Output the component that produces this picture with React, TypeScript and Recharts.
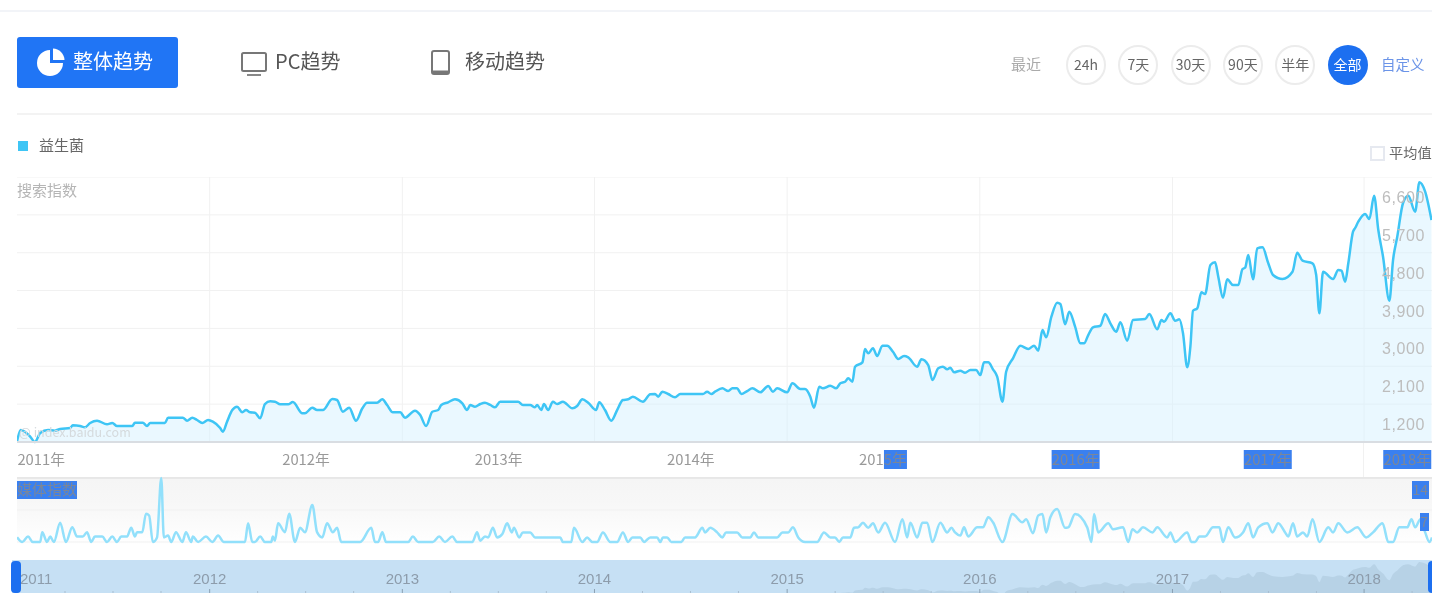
import React from 'react';
import { AreaChart, Area, LineChart, Line, XAxis, YAxis, CartesianGrid } from 'recharts';

// days are counted from the start of 2011
const searchDays = [
  0, 7, 15, 25, 34, 44, 59, 72, 82, 101,
  106, 120, 129, 139, 152, 171, 181, 190, 219, 224,
  239, 247, 253, 281, 287, 315, 323, 333, 342, 352,
  363, 372, 386, 391, 399, 409, 418, 428, 435, 443,
  452, 462, 471, 481, 490, 500, 515, 524, 542, 547,
  561, 570, 581, 599, 608, 619, 631, 644, 656, 665,
  684, 694, 703, 714, 728, 737, 756, 766, 777, 789,
  800, 806, 819, 832, 846, 855, 861, 870, 880, 889,
  899, 908, 918, 952, 961, 975, 984, 988, 996, 1001,
  1009, 1018, 1026, 1037, 1055, 1064, 1074, 1085, 1100, 1106,
  1117, 1129, 1140, 1151, 1161, 1170, 1189, 1203, 1212, 1218,
  1226, 1237, 1250, 1260, 1303, 1311, 1319, 1326, 1340, 1351,
  1359, 1368, 1376, 1387, 1397, 1412, 1427, 1436, 1444, 1463,
  1473, 1488, 1497, 1507, 1514, 1524, 1531, 1545, 1556, 1564,
  1573, 1579, 1587, 1592, 1606, 1611, 1617, 1626, 1634, 1644,
  1653, 1664, 1674, 1685, 1693, 1710, 1718, 1731, 1739, 1750,
  1759, 1767, 1773, 1780, 1792, 1801, 1811, 1822, 1830, 1837,
  1845, 1854, 1862, 1872, 1879, 1892, 1906, 1921, 1932, 1940,
  1948, 1955, 1965, 1976, 1982, 1991, 1999, 2010, 2020, 2027,
  2035, 2044, 2058, 2067, 2077, 2088, 2096, 2109, 2120, 2143,
  2151, 2166, 2174, 2179, 2191, 2200, 2208, 2215, 2223, 2229,
  2234, 2242, 2250, 2257, 2267, 2276, 2282, 2291, 2299, 2310,
  2320, 2328, 2333, 2339, 2348, 2356, 2366, 2377, 2386, 2404,
  2423, 2432, 2442, 2461, 2468, 2474, 2481, 2500, 2510, 2516,
  2523, 2529, 2538, 2542, 2548, 2561, 2569, 2578, 2586, 2595,
  2607, 2614, 2622, 2633, 2643, 2656, 2664, 2675, 2687,
];

const searchValues = [
  310, 585, 545, 430, 300, 514, 585, 570, 610, 633,
  697, 680, 650, 752, 806, 720, 752, 680, 680, 759,
  759, 680, 752, 752, 878, 878, 806, 878, 823, 752,
  823, 783, 633, 545, 783, 1060, 1139, 1006, 1060, 1006,
  996, 863, 1203, 1267, 1258, 1196, 1196, 1251, 982, 982,
  1115, 1060, 1060, 1322, 1298, 1020, 1115, 806, 1101, 1234,
  1234, 1315, 1180, 1006, 1006, 878, 1044, 942, 680, 1020,
  1060, 1180, 1244, 1315, 1220, 1060, 1180, 1139, 1203, 1234,
  1180, 1125, 1258, 1258, 1180, 1180, 1125, 1180, 1060, 1203,
  1060, 1258, 1203, 1258, 1101, 1156, 1315, 1234, 1060, 1244,
  1060, 806, 1060, 1298, 1315, 1377, 1258, 1434, 1441, 1377,
  1496, 1441, 1362, 1441, 1441, 1496, 1441, 1496, 1576, 1512,
  1576, 1576, 1441, 1512, 1576, 1481, 1631, 1496, 1576, 1481,
  1695, 1560, 1560, 1377, 1115, 1614, 1576, 1638, 1576, 1695,
  1733, 1814, 1733, 2090, 2194, 2510, 2408, 2527, 2344, 2589,
  2589, 2446, 2273, 2344, 2313, 2090, 2266, 2130, 1774, 2052,
  2090, 2028, 2066, 1957, 1995, 1947, 2011, 2011, 1893, 2194,
  2194, 2028, 1852, 1258, 1971, 2290, 2589, 2511, 2589, 2470,
  2962, 2789, 3278, 3611, 3580, 3098, 3397, 3041, 2646, 2646,
  2843, 3026, 3064, 3343, 3121, 2922, 3145, 2708, 3200, 3224,
  3343, 2979, 3200, 3160, 3359, 3183, 3216, 2884, 2076, 2565,
  3421, 3478, 3858, 3818, 4507, 4571, 4229, 3730, 4167, 4032,
  4032, 4412, 4443, 4745, 4167, 4904, 4928, 4548, 4270, 4175,
  4348, 4800, 4610, 4548, 4270, 3359, 4348, 4175, 4388, 4372,
  4110, 4548, 5299, 5387, 5537, 5720, 5601, 6155, 5339, 4704,
  3659, 4626, 5180, 5981, 6155, 5774, 6473, 6250, 5577,
];

const mediaDays = [
  0, 10, 21, 30, 44, 48, 57, 63, 70, 82,
  93, 105, 114, 125, 133, 141, 148, 162, 171, 181,
  190, 198, 209, 217, 224, 228, 238, 245, 251, 258,
  266, 274, 279, 287, 293, 302, 314, 321, 331, 334,
  344, 359, 371, 382, 393, 433, 439, 447, 452, 462,
  471, 483, 486, 490, 496, 509, 517, 528, 538, 547,
  561, 570, 580, 589, 600, 608, 616, 652, 673, 680,
  686, 694, 701, 743, 752, 762, 790, 802, 813, 827,
  836, 865, 874, 880, 889, 895, 904, 912, 922, 931,
  940, 944, 954, 961, 975, 984, 1032, 1037, 1053, 1058,
  1074, 1083, 1093, 1102, 1113, 1127, 1140, 1151, 1161, 1169,
  1184, 1191, 1203, 1216, 1222, 1227, 1235, 1243, 1262, 1269,
  1288, 1302, 1307, 1317, 1330, 1340, 1347, 1368, 1378, 1393,
  1400, 1408, 1444, 1454, 1465, 1474, 1484, 1497, 1520, 1533,
  1545, 1554, 1562, 1569, 1583, 1590, 1598, 1607, 1617, 1626,
  1636, 1649, 1668, 1682, 1691, 1697, 1710, 1720, 1729, 1739,
  1754, 1767, 1775, 1782, 1792, 1799, 1807, 1824, 1835, 1845,
  1854, 1872, 1891, 1910, 1917, 1930, 1940, 1948, 1955, 1963,
  1976, 1991, 1997, 2010, 2033, 2041, 2046, 2054, 2073, 2082,
  2101, 2111, 2119, 2128, 2139, 2157, 2166, 2185, 2191, 2200,
  2223, 2231, 2238, 2246, 2257, 2272, 2284, 2291, 2301, 2314,
  2329, 2339, 2348, 2358, 2375, 2385, 2396, 2409, 2415, 2424,
  2432, 2443, 2451, 2461, 2474, 2491, 2500, 2510, 2527, 2546,
  2563, 2576, 2594, 2605, 2614, 2626, 2641, 2649, 2656, 2666,
  2675, 2683, 2688,
];

const mediaValues = [
  1.05, 0, 1.2, 0, 0, 2.15, 0, 1.2, 0, 4.2,
  0, 3.25, 1.2, 1.2, 2.15, 0, 1.2, 1.2, 0, 1.2,
  0, 1.2, 1.2, 3.1, 1.2, 2.15, 2.15, 6.2, 5.8, 0,
  1, 14, 1, 1.4, 0, 2.15, 0, 2.15, 0, 1.2,
  0, 1.2, 0, 1.4, 0, 0, 4.1, 0, 0, 1.2,
  0, 0, 1.2, 0.3, 4.1, 2.15, 6.2, 0, 3.1, 2.15,
  8.1, 2.15, 1, 4.1, 2.15, 3.1, 0, 0, 3.1, 0,
  0, 2.15, 0, 0, 1.2, 0, 0, 1.2, 0, 1.2,
  0, 0, 2.15, 0.3, 1.2, 1, 3.1, 1, 1.75, 4.1,
  2.1, 3.1, 1, 2.1, 2.1, 1, 1, 0, 0, 3.1,
  0, 1, 0, 0, 2.1, 0, 0, 2.1, 0, 1,
  1, 0, 1, 1, 0, 1, 1, 0, 0, 1,
  1, 3.1, 2.1, 3.1, 2.1, 1, 2.1, 2.1, 1, 1,
  2.1, 1, 1, 2.1, 2.1, 3.2, 1, 0, 0, 2.1,
  1, 1, 0, 1, 1, 3.1, 3.2, 4.2, 3.1, 4.1,
  2.1, 4.2, 0, 5, 1, 4.2, 1, 4.2, 4.2, 0,
  4.2, 2.1, 3.1, 2.1, 1.4, 3.2, 1.2, 3.2, 3.2, 5.4,
  4.3, 0, 6.1, 4.3, 5, 1.9, 5.8, 6.1, 2.1, 5.4,
  7.2, 3.1, 3.2, 6.1, 3.2, 0, 6.1, 2.1, 4.1, 2.8,
  3.2, 0, 2.8, 2.1, 3.2, 2.1, 3.2, 1, 2.1, 0,
  2.1, 0, 0, 1.2, 1.2, 3.2, 3.2, 0, 3.2, 1,
  2.1, 4.1, 1, 3.2, 4.1, 2.1, 4.1, 2.1, 1.2, 4.1,
  1.2, 2.1, 1.2, 5, 0, 3.2, 2.1, 4.1, 2.1, 3.2,
  1, 2.1, 4.1, 0, 0, 3.2, 3.2, 5, 3.2, 5,
  2.1, 0, 1,
];

const yearStartDays = [366, 732, 1097, 1463, 1829, 2195, 2559];
const yearLabelDays = [46, 549, 915, 1280, 1645, 2011, 2376, 2641];
const yearLabels = ['2011年', '2012年', '2013年', '2014年', '2015年', '2016年', '2017年', '2018年'];
const searchTicks = [1200, 2100, 3000, 3900, 4800, 5700, 6600];
const mediaTicks = [7, 14];
const navigatorDays = [0, 366, 732, 1097, 1463, 1829, 2195, 2559];
const navigatorLabels = ['2011', '2012', '2013', '2014', '2015', '2016', '2017', '2018'];
const rangeButtons = ['24h', '7天', '30天', '90天', '半年', '全部'];
const seriesName = '益生菌';

const searchData = searchDays.map((day, i) => ({ day, value: searchValues[i] }));
const mediaData = mediaDays.map((day, i) => ({ day, value: mediaValues[i] }));

const FONT = '"Noto Sans CJK SC", "Noto Sans", sans-serif';
const SELECT_BLUE = '#3a80f0';
const SELECT_TEXT = '#7b8699';
const LINE_BLUE = '#3ec5f5';

const Txt = ({ x, y, size = 15, color = '#666', anchor = 'left', weight = 400, children }: any) => (
  <div
    style={{
      position: 'absolute',
      top: y - 15,
      height: 30,
      lineHeight: '30px',
      fontSize: size,
      fontWeight: weight,
      color,
      whiteSpace: 'nowrap',
      ...(anchor === 'left' ? { left: x } : { left: x - 40, width: 80, textAlign: 'center' as const }),
    }}
  >
    {children}
  </div>
);

const YearTick = ({ x, y, payload, index }: any) => {
  const label = yearLabels[index] ?? String(payload.value);
  const full = index >= 5;
  const part = index === 4;
  return (
    <g>
      {(full || part) && (
        <rect x={part ? x + 1 : x - 24} y={y + 6} width={part ? 23 : 48} height={19} fill={SELECT_BLUE} />
      )}
      <text x={x} y={y + 21} textAnchor="middle" fontSize={14.8} fontFamily={FONT} fill={full ? SELECT_TEXT : '#999'}>
        {part ? (
          <>
            {label.slice(0, 3)}
            <tspan fill={SELECT_TEXT}>{label.slice(3)}</tspan>
          </>
        ) : (
          label
        )}
      </text>
    </g>
  );
};

const SearchTick = ({ x, y, payload }: any) => (
  <text x={x - 5} y={y + 26} textAnchor="end" fontSize={16} letterSpacing={0.6} fontFamily='"Liberation Sans", Arial, sans-serif' fill="#bdbdbd">
    {payload.value.toLocaleString('en-US')}
  </text>
);

const MediaTick = ({ x, y, payload }: any) => {
  const w = payload.value === 14 ? 17 : 9;
  const right = x - 1;
  return (
    <g>
      <rect x={right - w} y={y + 3} width={w} height={18} fill={SELECT_BLUE} />
      <text x={right - 1} y={y + 17} textAnchor="end" fontSize={14} fontFamily={FONT} fill={SELECT_TEXT}>
        {payload.value}
      </text>
    </g>
  );
};

const NavTick = ({ x, payload, index }: any) => (
  <g>
    <line x1={x} x2={x} y1={29} y2={33} stroke="#8ba0b2" />
    <line x1={x + 48} x2={x + 48} y1={31} y2={33} stroke="#a9bed0" />
    <line x1={x + 96} x2={x + 96} y1={31} y2={33} stroke="#a9bed0" />
    <line x1={x + 144} x2={x + 144} y1={31} y2={33} stroke="#a9bed0" />
    <text
      x={index === 0 ? x + 3 : x}
      y={24}
      textAnchor={index === 0 ? 'start' : 'middle'}
      fontSize={15}
      fontFamily='"Liberation Sans", Arial, sans-serif'
      fill="#8d9cab"
    >
      {navigatorLabels[index] ?? payload.value}
    </text>
  </g>
);

const App = () => {
  const rule = (top: number, left: number, color: string) => (
    <div style={{ position: 'absolute', top, left, right: 0, height: 2, background: color }} />
  );
  return (
    <div
      style={{
        position: 'fixed',
        left: 0,
        top: 0,
        width: 1432,
        height: 593,
        overflow: 'hidden',
        background: '#fff',
        fontFamily: FONT,
        filter: 'blur(0.45px)',
      }}
    >
      {rule(10, 0, '#f2f4f8')}
      {rule(113, 17, '#f3f3f3')}

      {/* tabs */}
      <div style={{ position: 'absolute', left: 17, top: 37, width: 161, height: 51, background: '#2075f5', borderRadius: 3 }} />
      <svg width={560} height={100} style={{ position: 'absolute', left: 0, top: 0 }}>
        <path d="M50 50 A13 13 0 1 0 63 63 L50 63 Z" fill="#fff" />
        <path d="M53 48.5 A12 12 0 0 1 64.5 60 L53 60 Z" fill="#fff" />
        <rect x={242} y={53} width={24} height={18} rx={1.5} fill="none" stroke="#777" strokeWidth={2} />
        <line x1={247} x2={261} y1={75} y2={75} stroke="#888" strokeWidth={2} />
        <rect x={432} y={51} width={17} height={23} rx={2} fill="none" stroke="#777" strokeWidth={2} />
        <line x1={432} x2={449} y1={72} y2={72} stroke="#777" strokeWidth={3} />
      </svg>
      <Txt x={73} y={61} size={20} color="#fff">整体趋势</Txt>
      <Txt x={275} y={61} size={20} color="#555">PC趋势</Txt>
      <Txt x={465} y={61} size={20} color="#555">移动趋势</Txt>

      {/* range buttons */}
      <Txt x={1011} y={64} size={15} color="#aaa">最近</Txt>
      {rangeButtons.map((b, i) => {
        const cx = 1086 + i * 52.3;
        const on = b === '全部';
        return (
          <React.Fragment key={b}>
            <div
              style={{
                position: 'absolute',
                left: cx - 20,
                top: 45,
                width: 40,
                height: 40,
                boxSizing: 'border-box',
                borderRadius: '50%',
                border: on ? 'none' : '2px solid #ececec',
                background: on ? '#1c6ff0' : '#fff',
              }}
            />
            <Txt x={cx} y={64} size={14} color={on ? '#fff' : '#666'} anchor="center">{b}</Txt>
          </React.Fragment>
        );
      })}
      <Txt x={1381} y={64} size={14.5} color="#6b94e8">自定义</Txt>

      {/* legend */}
      <div style={{ position: 'absolute', left: 18, top: 141, width: 10, height: 10, background: LINE_BLUE }} />
      <Txt x={39} y={145} size={15} color="#666">{seriesName}</Txt>
      <div style={{ position: 'absolute', left: 1370, top: 146, width: 15, height: 15, boxSizing: 'border-box', border: '2px solid #e6e9f0' }} />
      <Txt x={1389} y={152} size={14.2} color="#666">平均值</Txt>

      {/* search index */}
      <div style={{ position: 'absolute', left: 17, top: 177 }}>
        <AreaChart width={1415} height={300} data={searchData} margin={{ top: 0, right: 0, bottom: 0, left: 0 }}>
          <CartesianGrid stroke="#f1f1f1" verticalValues={yearStartDays} />
          <XAxis
            dataKey="day"
            type="number"
            domain={[0, 2688]}
            ticks={yearLabelDays}
            interval={0}
            height={35}
            tickLine={false}
            tickSize={0}
            axisLine={{ stroke: '#d9dde2', strokeWidth: 2 }}
            tick={<YearTick />}
          />
          <YAxis
            type="number"
            orientation="right"
            mirror
            domain={[300, 6600]}
            ticks={searchTicks}
            interval={0}
            width={1}
            axisLine={false}
            tickLine={false}
            tickSize={0}
            tick={<SearchTick />}
          />
          <Area
            type="monotone"
            dataKey="value"
            stroke={LINE_BLUE}
            strokeWidth={2.5}
            fill="#d4f1fe"
            fillOpacity={0.48}
            dot={false}
            isAnimationActive={false}
          />
        </AreaChart>
      </div>
      <Txt x={17} y={190} size={15} color="#b5b5b5">搜索指数</Txt>
      <Txt x={19} y={432} size={12.5} color="#d5dadd">@ index.baidu.com</Txt>
      <div style={{ position: 'absolute', left: 1363, top: 443, width: 1, height: 34, background: '#f1f1f1' }} />

      {/* media index */}
      <div
        style={{
          position: 'absolute',
          left: 17,
          right: 0,
          top: 477,
          height: 68,
          boxSizing: 'border-box',
          borderTop: '2px solid #dedede',
          background: 'linear-gradient(#f5f5f5 0%, #f7f7f7 35%, #ffffff 100%)',
        }}
      />
      <div style={{ position: 'absolute', left: 17, top: 476 }}>
        <LineChart width={1415} height={72} data={mediaData} margin={{ top: 2, right: 0, bottom: 6, left: 0 }}>
          <CartesianGrid stroke="#f1f1f1" vertical={false} />
          <XAxis dataKey="day" type="number" domain={[0, 2688]} hide />
          <YAxis
            type="number"
            orientation="right"
            mirror
            domain={[0, 14]}
            ticks={mediaTicks}
            interval={0}
            width={1}
            axisLine={false}
            tickLine={false}
            tickSize={0}
            tick={<MediaTick />}
          />
          <Line
            type="monotone"
            dataKey="value"
            stroke="#92e0fb"
            strokeWidth={2.5}
            dot={false}
            isAnimationActive={false}
          />
        </LineChart>
      </div>
      <div style={{ position: 'absolute', left: 17, top: 481, width: 60, height: 18, background: SELECT_BLUE }} />
      <Txt x={17} y={489} size={15} color={SELECT_TEXT}>媒体指数</Txt>

      {/* range navigator */}
      <div style={{ position: 'absolute', left: 12, right: 0, top: 560, height: 33, background: '#c6e0f4' }} />
      <div style={{ position: 'absolute', left: 17, top: 560 }}>
        <AreaChart width={1415} height={33} data={searchData} margin={{ top: 0, right: 0, bottom: 0, left: 0 }}>
          <XAxis
            dataKey="day"
            type="number"
            domain={[0, 2688]}
            ticks={navigatorDays}
            interval={0}
            orientation="top"
            mirror
            height={1}
            axisLine={false}
            tickLine={false}
            tick={<NavTick />}
          />
          <YAxis type="number" domain={[1700, 6800]} allowDataOverflow hide />
          <Area
            type="monotone"
            dataKey="value"
            stroke="none"
            fill="#aec8dc"
            dot={false}
            isAnimationActive={false}
          />
        </AreaChart>
      </div>
      <div style={{ position: 'absolute', left: 11, top: 561, width: 10, height: 32, borderRadius: 4, background: '#1c6ff0' }} />
      <div style={{ position: 'absolute', left: 1428, top: 561, width: 10, height: 32, borderRadius: 4, background: '#1c6ff0' }} />
    </div>
  );
};

export default App;
